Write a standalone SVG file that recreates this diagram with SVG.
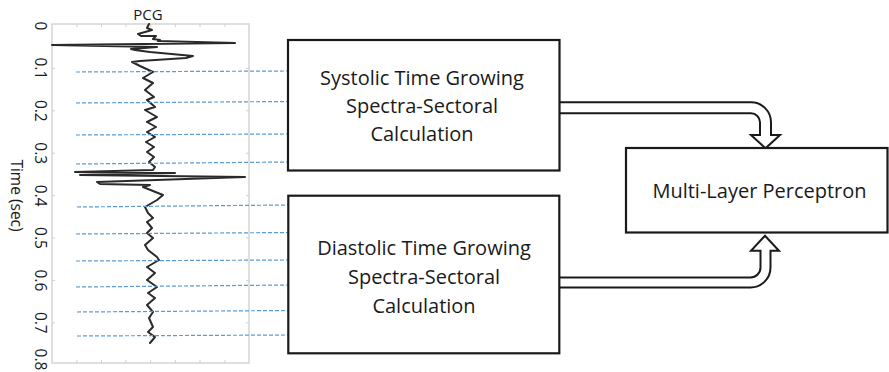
<svg xmlns="http://www.w3.org/2000/svg" width="889" height="372" viewBox="0 0 889 372">
<style>
.t{font-family:"Open Sans","Liberation Sans",sans-serif;fill:#1a1a1a}
.bx{fill:#fff;stroke:#1a1a1a;stroke-width:2.2}
.dash{stroke:#5b9bd5;stroke-width:1.2;stroke-dasharray:4 2;fill:none}
.tick{stroke:#d0d0d0;stroke-width:1}
.arr{fill:#fff;stroke:#1a1a1a;stroke-width:2;stroke-linejoin:miter}
</style>
<rect width="889" height="372" fill="#fff"/>
<g id="pcg-plot">
  <text class="t" x="148" y="20" font-size="15" text-anchor="middle">PCG</text>
  <rect x="52" y="24" width="197" height="339" fill="none" stroke="#d5d5d5" stroke-width="1.5"/>
  <g class="tick">
    <path d="M77,24v3M101.5,24v3M126,24v3M150.7,24v3M175.3,24v3M200,24v3M225,24v3M77,363v-3M101.5,363v-3M126,363v-3M150.7,363v-3M175.3,363v-3M200,363v-3M225,363v-3"/>
    <path d="M52,68.4h3M52,110.8h3M52,153.2h3M52,195.6h3M52,238h3M52,280.4h3M52,322.8h3M249,68.4h-3M249,110.8h-3M249,153.2h-3M249,195.6h-3M249,238h-3M249,280.4h-3M249,322.8h-3"/>
  </g>
  <g class="t" font-size="15.5" text-anchor="middle">
    <text transform="translate(35,26) rotate(90)">0</text>
    <text transform="translate(35,68.4) rotate(90)">0.1</text>
    <text transform="translate(35,110.8) rotate(90)">0.2</text>
    <text transform="translate(35,153.2) rotate(90)">0.3</text>
    <text transform="translate(35,195.6) rotate(90)">0.4</text>
    <text transform="translate(35,238) rotate(90)">0.5</text>
    <text transform="translate(35,280.4) rotate(90)">0.6</text>
    <text transform="translate(35,322.8) rotate(90)">0.7</text>
    <text transform="translate(35,359.5) rotate(90)">0.8</text>
  </g>
  <text class="t" font-size="15.5" text-anchor="middle" transform="translate(11,195.5) rotate(90)">Time (sec)</text>
  <polyline fill="none" stroke="#2a2a2a" stroke-width="2" stroke-linejoin="round" stroke-linecap="round" points="149,24 147,28 152,30 138,34 141,36 156,36 153,39 160,40 158,41 235,43 52,45 157,47 131,49 135,50 150,52 193,56 186,58 140,61 132,62 140,66 153,72 143,78 153,83 145,90 154,97 147,100 155,107 145,110 157,117 147,122 156,127 147,132 155,137 146,142 154,147 147,152 154,157 149,162 155,167 153,170 75,172 175,173 80,175 245,177 97,182 100,184 150,185 143,187 163,195 157,200 145,207 148,213 153,218 147,222 152,228 147,233 153,238 145,245 148,250 157,257 159,260 147,267 155,273 147,280 157,287 148,293 155,298 147,305 153,312 149,318 153,327 148,332 155,337 150,343"/>
</g>
<g id="connectors">
  <g class="dash">
    <line x1="76" y1="72" x2="288" y2="71"/>
    <line x1="76" y1="103" x2="288" y2="101.5"/>
    <line x1="76" y1="135" x2="288" y2="134"/>
    <line x1="76" y1="164" x2="288" y2="162"/>
    <line x1="77" y1="207" x2="288" y2="205"/>
    <line x1="76" y1="234" x2="288" y2="232.5"/>
    <line x1="76" y1="261" x2="288" y2="260"/>
    <line x1="76" y1="287" x2="288" y2="285"/>
    <line x1="77" y1="312" x2="288" y2="310.5"/>
    <line x1="77" y1="336" x2="288" y2="335"/>
  </g>
  <path class="arr" d="M560,102.3 H751 A20,20 0 0 1 771,122.3 V135 H780 L765.5,148.3 L751,135 H760 V122.3 A9,9 0 0 0 751,113.3 H560"/>
  <path class="arr" d="M559,287.5 H750.5 A20,20 0 0 0 770.5,267.5 V250.7 H779 L765,235.7 L751,250.7 H760.5 V267.5 A10,10 0 0 1 750.5,277.5 H559"/>
</g>
<g id="systolic">
  <rect class="bx" x="288" y="40" width="271.5" height="130.5"/>
  <g class="t" font-size="20" text-anchor="middle">
    <text x="422" y="85">Systolic Time Growing</text>
    <text x="422" y="113.3">Spectra-Sectoral</text>
    <text x="422" y="141">Calculation</text>
  </g>
</g>
<g id="diastolic">
  <rect class="bx" x="288.3" y="195.7" width="271" height="157.6"/>
  <g class="t" font-size="20" text-anchor="middle">
    <text x="424" y="255">Diastolic Time Growing</text>
    <text x="424" y="283.5">Spectra-Sectoral</text>
    <text x="424" y="312.5">Calculation</text>
  </g>
</g>
<g id="mlp">
  <rect class="bx" x="626" y="148" width="261.5" height="84.5"/>
  <text class="t" x="759.5" y="198" font-size="20" text-anchor="middle">Multi-Layer Perceptron</text>
</g>
</svg>
